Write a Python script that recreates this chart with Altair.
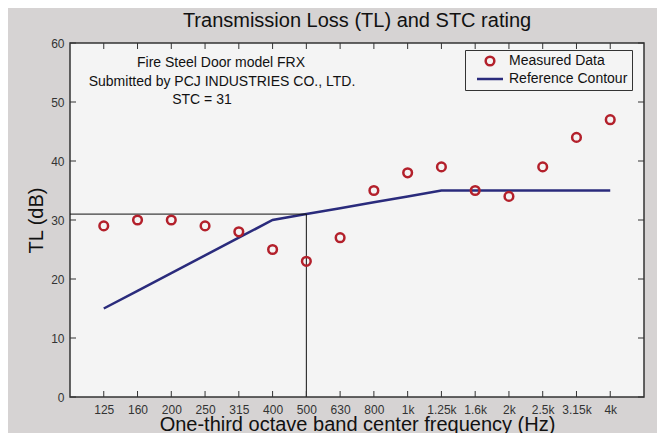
import altair as alt
import pandas as pd

freqs = ["125", "160", "200", "250", "315", "400", "500", "630", "800",
         "1k", "1.25k", "1.6k", "2k", "2.5k", "3.15k", "4k"]
measured = [29, 30, 30, 29, 28, 25, 23, 27, 35, 38, 39, 35, 34, 39, 44, 47]
contour = [15, 18, 21, 24, 27, 30, 31, 32, 33, 34, 35, 35, 35, 35, 35, 35]
stc_value = 31
stc_band = "500"
y_ticks = [0, 10, 20, 30, 40, 50, 60]
series_names = ["Measured Data", "Reference Contour"]
notes = ["Fire Steel Door model FRX", "Submitted by PCJ INDUSTRIES CO., LTD.", "STC = 31"]

FONT = "Liberation Sans"
RED = "#b3202b"
NAVY = "#2a2b7c"
W, H = 574, 354

rows = []
for i, f in enumerate(freqs):
    rows.append({"i": i, "freq": f, "tl": measured[i], "series": series_names[0]})
    rows.append({"i": i, "freq": f, "tl": contour[i], "series": series_names[1]})
df = pd.DataFrame(rows)

stc_i = freqs.index(stc_band)
stc_df = pd.DataFrame({"x0": [-1], "xi": [stc_i], "y0": [0], "stc": [stc_value]})
xt = pd.DataFrame({"i": list(range(len(freqs)))})
yt = pd.DataFrame({"v": y_ticks})

label_arr = "[" + ",".join("'%s'" % f for f in freqs) + "]"

xscale = alt.Scale(domain=[-1, len(freqs)], nice=False, zero=False)
yscale = alt.Scale(domain=[0, 60], nice=False)

xaxis = alt.Axis(values=list(range(len(freqs))), labelExpr=label_arr + "[datum.value]",
                 ticks=False, domain=False, grid=False, labelFontSize=12, labelFont=FONT,
                 labelColor="#333", labelPadding=7, labelFlush=False, labelOverlap=False,
                 labelBound=False,
                 title="One-third octave band center frequency (Hz)", titleFontSize=20,
                 titleFont=FONT, titleFontWeight="normal", titleColor="#111",
                 titleY=27, titleBaseline="middle")
yaxis = alt.Axis(values=y_ticks, ticks=False, domain=False, grid=False, labelFontSize=12,
                 labelFont=FONT, labelColor="#333", labelPadding=6, labelOverlap=False,
                 title="TL (dB)", titleFontSize=20, titleFont=FONT, titleFontWeight="normal",
                 titleColor="#111", titleX=-34, titleY=H / 2, titleAngle=-90,
                 titleAlign="center", titleBaseline="middle")

X = lambda f: alt.X(f, scale=xscale, axis=xaxis)
Y = lambda f: alt.Y(f, scale=yscale, axis=yaxis)

base = alt.Chart(df)

line = base.transform_filter(alt.datum.series == series_names[1]).mark_line(
    color=NAVY, strokeWidth=2.5
).encode(x=X("i:Q"), y=Y("tl:Q"))

points = base.transform_filter(alt.datum.series == series_names[0]).mark_point(
    filled=False, size=75, strokeWidth=2.5, opacity=1
).encode(
    x=X("i:Q"), y=Y("tl:Q"),
    color=alt.Color("series:N", scale=alt.Scale(domain=series_names, range=[RED, NAVY]),
                    legend=alt.Legend(title=None, orient="none", legendX=395, legendY=7,
                                      labelFontSize=14, labelFont=FONT, labelColor="#111",
                                      strokeColor="#333", fillColor="#f4f4f4", padding=4,
                                      rowPadding=1, symbolStrokeWidth=2.5, symbolSize=75,
                                      symbolOffset=14, labelOffset=12, symbolFillColor="transparent")),
    shape=alt.Shape("series:N", scale=alt.Scale(domain=series_names, range=["circle", "M-3,0H3"]),
                    legend=alt.Legend(title=None, orient="none", legendX=395, legendY=7)),
)

hrule = alt.Chart(stc_df).mark_rule(color="#111", strokeWidth=1).encode(
    x=X("x0:Q"), x2="xi:Q", y=Y("stc:Q"))
vrule = alt.Chart(stc_df).mark_rule(color="#111", strokeWidth=1).encode(
    x=X("xi:Q"), y=Y("y0:Q"), y2="stc:Q")

tick_style = dict(color="#333", strokeWidth=1)
tb = alt.Chart(xt).mark_rule(**tick_style).encode(x=X("i:Q"), y=alt.value(H), y2=alt.value(H - 6))
tt = alt.Chart(xt).mark_rule(**tick_style).encode(x=X("i:Q"), y=alt.value(0), y2=alt.value(6))
tl = alt.Chart(yt).mark_rule(**tick_style).encode(y=Y("v:Q"), x=alt.value(0), x2=alt.value(6))
tr = alt.Chart(yt).mark_rule(**tick_style).encode(y=Y("v:Q"), x=alt.value(W), x2=alt.value(W - 6))

note_pos = [(151, 20), (152, 39), (132, 57)]
note_layers = []
for (nx, ny), txt in zip(note_pos, notes):
    note_layers.append(
        alt.Chart(pd.DataFrame({"t": [txt]})).mark_text(
            font=FONT, fontSize=14, color="#111", align="center", baseline="middle"
        ).encode(text="t:N", x=alt.value(nx), y=alt.value(ny))
    )

chart = alt.layer(line, hrule, vrule, points, tb, tt, tl, tr, *note_layers).properties(
    width=W, height=H,
    autosize=alt.AutoSizeParams(type="none"),
    padding={"left": 62, "top": 35, "right": 13, "bottom": 36},
    background="#d6d3d3",
    title=alt.TitleParams("Transmission Loss (TL) and STC rating", fontSize=20, font=FONT,
                          fontWeight="normal", color="#111", anchor="middle", offset=6,
                          frame="group"),
).configure_view(fill="#f4f4f4", stroke="#333", strokeWidth=1.5
).configure_axis(labelOverlap=False)

chart.save("out.html", embed_options={"renderer": "svg", "actions": False})
